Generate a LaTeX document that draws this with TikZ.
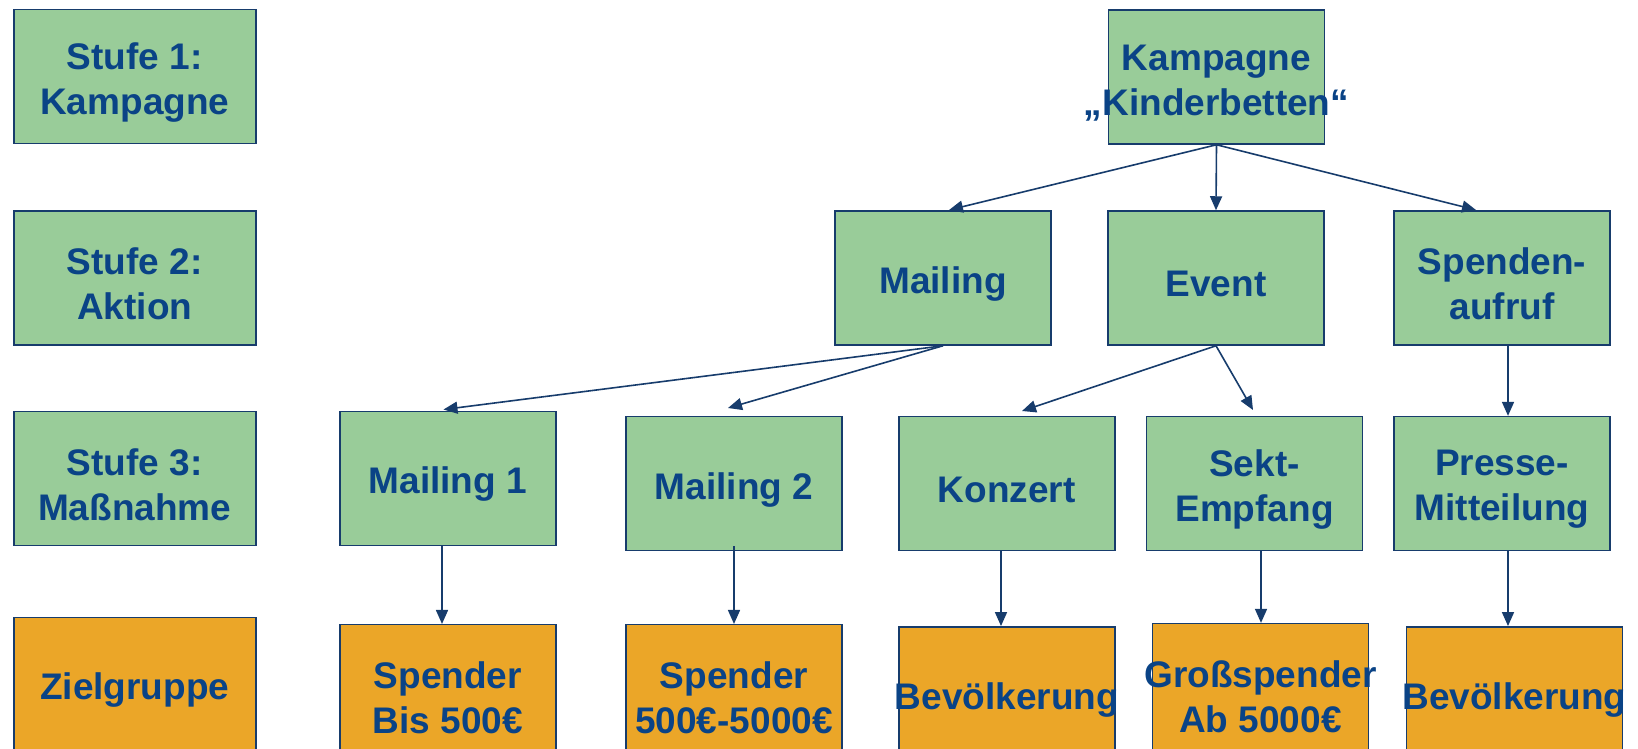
\documentclass[tikz,border=0pt]{standalone}
\usepackage{fontspec}
\setmainfont{Liberation Sans}
\usetikzlibrary{arrows.meta,calc}
\definecolor{boxgreen}{HTML}{99CC99}
\definecolor{boxorange}{HTML}{EBA628}
\definecolor{txtblue}{HTML}{0A4386}
\definecolor{lineblue}{HTML}{173C6C}
\begin{document}
\begin{tikzpicture}[x=1pt,y=-1pt,
  box/.style={draw=lineblue,line width=1.5pt,minimum width=216pt,minimum height=134pt,inner sep=0pt},
  gbox/.style={box,fill=boxgreen},
  obox/.style={box,fill=boxorange},
  wide/.style={minimum width=242pt},
  txt/.style={align=center,inner sep=0pt,yshift=-6pt,font=\fontsize{37}{45}\selectfont\bfseries,text=txtblue},
  conn/.style={draw=lineblue,line width=1.6pt,-{Triangle[length=14pt,width=12pt]}}]
\clip (0,0) rectangle (1638,748);
\fill[white] (0,0) rectangle (1638,748);
% left column
\node[gbox,wide,label={[txt]center:{Stufe 1:\\Kampagne}}] (s1) at (134.8,76.7) {};
\node[gbox,wide,label={[txt]center:{Stufe 2:\\Aktion}}] (s2) at (134.8,278) {};
\node[gbox,wide,label={[txt]center:{Stufe 3:\\Maßnahme}}] (s3) at (134.8,478.3) {};
\node[obox,wide,label={[txt]center:{Zielgruppe}}] (zg) at (134.8,684.4) {};
% tree
\node[gbox,label={[txt]center:{Kampagne\\„Kinderbetten“}}] (kamp) at (1216.5,77) {};
\node[gbox,label={[txt]center:{Mailing}}] (mail) at (943,278) {};
\node[gbox,label={[txt]center:{Event}}] (event) at (1216,278) {};
\node[gbox,label={[txt]center:{Spenden-\\aufruf}}] (spend) at (1502,278) {};
\node[gbox,label={[txt]center:{Mailing 1}}] (m1) at (447.8,478.3) {};
\node[gbox,label={[txt]center:{Mailing 2}}] (m2) at (734,483.6) {};
\node[gbox,label={[txt]center:{Konzert}}] (konz) at (1006.8,483.6) {};
\node[gbox,label={[txt]center:{Sekt-\\Empfang}}] (sekt) at (1254.5,483.6) {};
\node[gbox,label={[txt]center:{Presse-\\Mitteilung}}] (presse) at (1502,483.6) {};
\node[obox,label={[txt]center:{Spender\\Bis 500€}}] (sp1) at (447.8,691.7) {};
\node[obox,label={[txt]center:{Spender\\500€-5000€}}] (sp2) at (734,691.7) {};
\node[obox,label={[txt]center:{Bevölkerung}}] (bev1) at (1006.8,693.8) {};
\node[obox,label={[txt]center:{Großspender\\Ab 5000€}}] (gross) at (1260.5,690.6) {};
\node[obox,label={[txt]center:{Bevölkerung}}] (bev2) at (1514.5,693.8) {};
% arrow end points
\coordinate (t-mail) at (949,210);
\coordinate (t-spend) at (1476,210);
\coordinate (t-m1) at (443.5,409.5);
\coordinate (t-m2) at (728,408);
\coordinate (t-konz) at (1022,411);
\coordinate (t-sekt) at (1253,410);
\coordinate (v-m1) at (442,0);
\coordinate (v-m2) at (734,0);
\coordinate (v-konz) at (1001,0);
\coordinate (v-sekt) at (1261,0);
\coordinate (v-presse) at (1508,0);
% connectors
\draw[conn] (kamp.south) -- (t-mail);
\draw[conn] (kamp.south) -- (event.north);
\draw[conn] (kamp.south) -- (t-spend);
\draw[conn] (mail.south) -- (t-m1);
\draw[conn] (mail.south) -- (t-m2);
\draw[conn] (event.south) -- (t-konz);
\draw[conn] (event.south) -- (t-sekt);
\draw[conn] (spend.south -| v-presse) -- (presse.north -| v-presse);
\draw[conn] (m1.south -| v-m1) -- (sp1.north -| v-m1);
\draw[conn] ([yshift=5pt]m2.south -| v-m2) -- (sp2.north -| v-m2);
\draw[conn] (konz.south -| v-konz) -- (bev1.north -| v-konz);
\draw[conn] (sekt.south -| v-sekt) -- (gross.north -| v-sekt);
\draw[conn] (presse.south -| v-presse) -- (bev2.north -| v-presse);
\end{tikzpicture}
\end{document}
